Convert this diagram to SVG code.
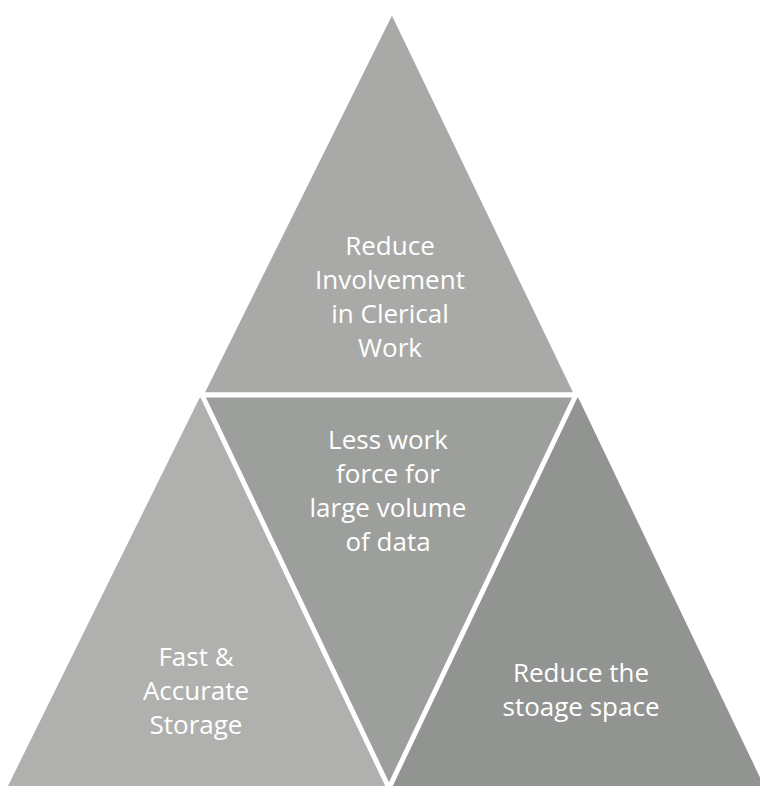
<svg xmlns="http://www.w3.org/2000/svg" width="760" height="786" viewBox="0 0 760 786">
<style>
.seg{stroke:#ffffff;stroke-width:5;stroke-linejoin:miter}
.lbl{font-family:"Open Sans","Liberation Sans",sans-serif;font-size:26px;fill:#ffffff;text-anchor:middle}
</style>
<rect width="760" height="786" fill="#ffffff"/>
<g id="node-top">
<polygon class="seg" points="392,10 201,395 577,395" fill="#a9aaa7" stroke="none"/>
<text class="lbl" x="390" y="255">Reduce</text>
<text class="lbl" x="390" y="289">Involvement</text>
<text class="lbl" x="390" y="323">in Clerical</text>
<text class="lbl" x="390" y="357">Work</text>
</g>
<g id="node-left">
<polygon points="201,395 6,790 388,790" fill="#b0b1ae"/>
<text class="lbl" x="196" y="666">Fast &amp;</text>
<text class="lbl" x="196" y="700">Accurate</text>
<text class="lbl" x="196" y="734">Storage</text>
</g>
<g id="node-right">
<polygon points="577,395 388,790 766,790" fill="#929491"/>
<text class="lbl" x="581" y="682">Reduce the</text>
<text class="lbl" x="581" y="716">stoage space</text>
</g>
<g id="node-middle">
<polygon points="201,395 577,395 388,790" fill="#9d9f9c"/>
<text class="lbl" x="388" y="449">Less work</text>
<text class="lbl" x="388" y="483">force for</text>
<text class="lbl" x="388" y="517">large volume</text>
<text class="lbl" x="388" y="551">of data</text>
</g>
<g id="connectors" stroke="#ffffff" stroke-width="5" fill="none" stroke-linecap="round">
<line x1="198" y1="395" x2="580" y2="395"/>
<line x1="203" y1="397" x2="388" y2="786"/>
<line x1="575" y1="397" x2="390" y2="786"/>
</g>
</svg>
